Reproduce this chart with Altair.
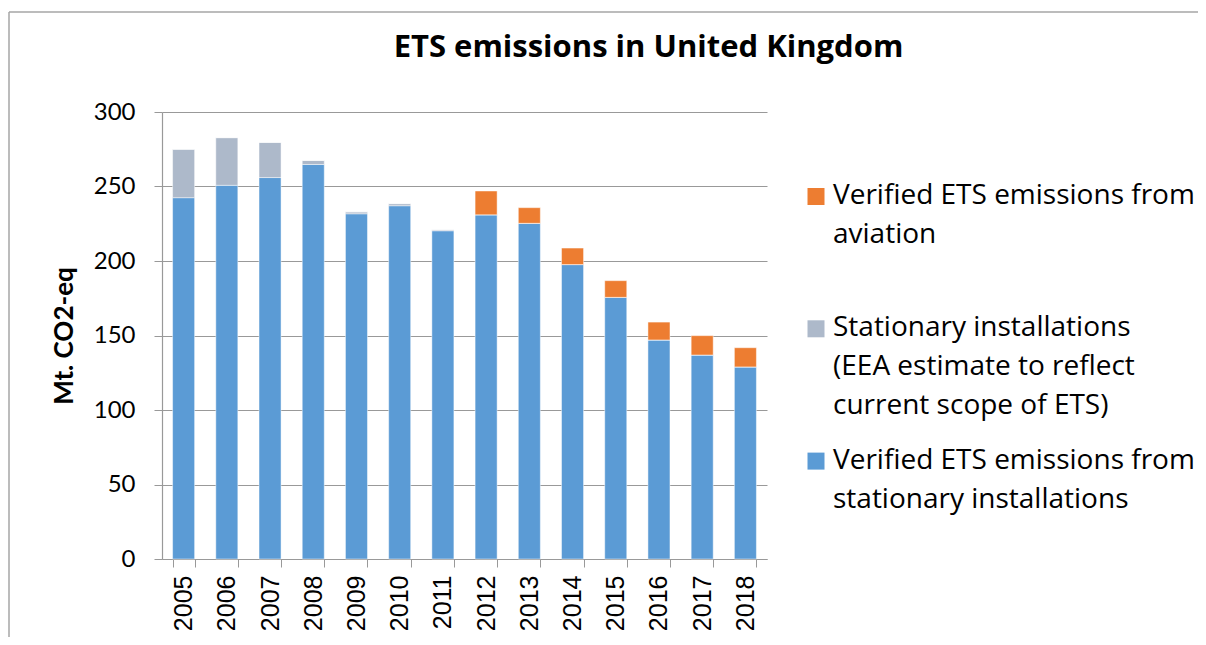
import altair as alt
import pandas as pd

years = [str(y) for y in range(2005, 2019)]
verified_stationary = [242.5, 250.8, 256.0, 264.8, 231.7, 237.1, 220.3, 231.0, 225.3, 197.6, 175.6, 147.0, 136.9, 128.9]
eea_estimate = [32.5, 32.0, 23.6, 2.7, 1.3, 1.4, 0.7, 0, 0, 0, 0, 0, 0, 0]
aviation = [0, 0, 0, 0, 0, 0, 0, 16.0, 10.5, 11.1, 11.2, 12.0, 13.0, 12.9]

S_AV = "Verified ETS emissions from aviation"
S_EEA = "Stationary installations (EEA estimate to reflect current scope of ETS)"
S_VER = "Verified ETS emissions from stationary installations"
series_names = [S_AV, S_EEA, S_VER]
series_colors = ["#ED7D31", "#ADB9CA", "#5B9BD5"]

# legend text, wrapped as in the reference
legend_lines = [
    ["Verified ETS emissions from", "aviation"],
    ["Stationary installations", "(EEA estimate to reflect", "current scope of ETS)"],
    ["Verified ETS emissions from", "stationary installations"],
]

rows = []
for i, y in enumerate(years):
    rows.append({"year": y, "series": S_VER, "value": verified_stationary[i], "ord": 0})
    rows.append({"year": y, "series": S_EEA, "value": eea_estimate[i], "ord": 1})
    rows.append({"year": y, "series": S_AV, "value": aviation[i], "ord": 2})
df = pd.DataFrame(rows)

leg_sym = pd.DataFrame({"series": series_names, "entry": [0, 1, 2]})
leg_txt = pd.DataFrame([
    {"entry": e, "line": l, "text": t}
    for e, lines in enumerate(legend_lines) for l, t in enumerate(lines)
])

color_scale = alt.Scale(domain=series_names, range=series_colors)

bars = alt.Chart(df).mark_bar(stroke="white", strokeWidth=0.8, strokeOpacity=0.6).encode(
    x=alt.X("year:O", title=None,
            scale=alt.Scale(paddingInner=0.49, paddingOuter=0.245),
            axis=alt.Axis(labelAngle=270, labelFont="Liberation Sans", labelFontSize=25,
                          labelColor="#000000", tickBand="extent", tickSize=8,
                          tickColor="#999999", domainColor="#999999", labelPadding=8,
                          grid=False)),
    y=alt.Y("value:Q", stack="zero", title="Mt. CO2-eq",
            scale=alt.Scale(domain=[0, 300], nice=False),
            axis=alt.Axis(values=[0, 50, 100, 150, 200, 250, 300], labelFont="Lato",
                          labelFontSize=24, labelColor="#000000", tickSize=8,
                          tickColor="#999999", domainColor="#999999", gridColor="#999999",
                          labelPadding=19, titleFont="Lato", titleFontSize=26,
                          titleFontWeight="bold", titleColor="#000000", titlePadding=16)),
    color=alt.Color("series:N", scale=color_scale, legend=None),
    order=alt.Order("ord:Q", sort="ascending"),
)

leg_scale = alt.Scale(domain=[0, 447], range=[0, 447])

legend_symbols = alt.Chart(leg_sym).mark_square(size=289, opacity=1).transform_calculate(
    pos="84.5 + datum.entry * 132.3"
).encode(
    x=alt.value(654),
    y=alt.Y("pos:Q", scale=leg_scale, axis=None),
    color=alt.Color("series:N", scale=color_scale, legend=None),
)

legend_text = alt.Chart(leg_txt).mark_text(
    align="left", baseline="middle", font="Open Sans", fontSize=28, color="#000000"
).transform_calculate(
    pos="84 + datum.entry * 132.3 + datum.line * 39"
).encode(
    x=alt.value(671),
    y=alt.Y("pos:Q", scale=leg_scale, axis=None),
    text="text:N",
)

# chart-area border (top and left edges, as visible in the reference)
frame_top = alt.Chart(alt.Data(values=[{}])).mark_rule(color="#A6A6A6", strokeWidth=1.5).encode(
    x=alt.value(-153), x2=alt.value(1060), y=alt.value(-100)
)
frame_left = alt.Chart(alt.Data(values=[{}])).mark_rule(color="#A6A6A6", strokeWidth=1.5).encode(
    x=alt.value(-153), y=alt.value(-100), y2=alt.value(560)
)

chart = alt.layer(frame_top, frame_left, bars, legend_symbols, legend_text).resolve_scale(
    y="independent"
).properties(
    width=605, height=447,
    title=alt.TitleParams("ETS emissions in United Kingdom", font="Open Sans", fontSize=31,
                          fontWeight="bold", color="#000000", anchor="middle", dx=184, offset=-53),
    autosize=alt.AutoSizeParams(type="none"),
    padding={"left": 154, "top": 104, "right": 431, "bottom": 78},
).configure_view(stroke=None).configure_axis(domainWidth=1.2, gridWidth=1.2)

chart.save("out.html", embed_options={"renderer": "svg", "actions": False})
